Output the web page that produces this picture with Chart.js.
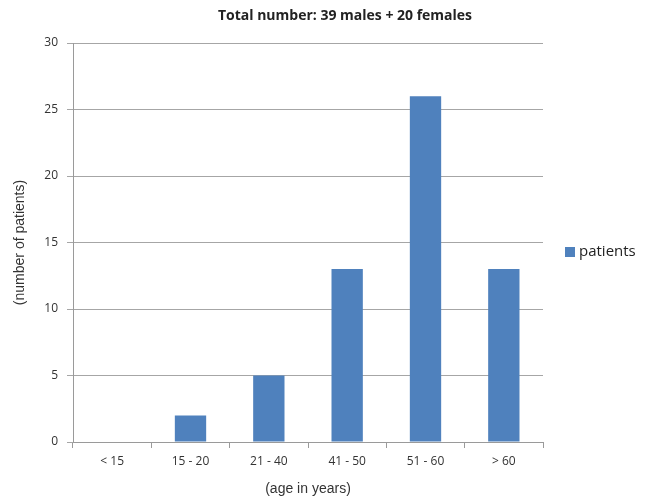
<!DOCTYPE html>
<html><head><meta charset="utf-8">
<script src="https://cdn.jsdelivr.net/npm/chart.js@4.4.0/dist/chart.umd.min.js"></script>
<style>html,body{margin:0;padding:0;background:#fff}#wrap{width:649px;height:502px;position:relative}</style>
</head><body><div id="wrap"><canvas id="c" width="649" height="502"></canvas></div>
<script>
const categories = ["< 15", "15 - 20", "21 - 40", "41 - 50", "51 - 60", "> 60"];
const patients = [0, 2, 5, 13, 26, 13];
const yTicks = [0, 5, 10, 15, 20, 25, 30];
const titleText = "Total number: 39 males + 20 females";
const seriesName = "patients";
const barColor = "#4F81BD";

const overlay = {
  id: 'overlay',
  afterDraw(chart) {
    const ctx = chart.ctx;
    ctx.save();
    ctx.fillStyle = '#222';
    ctx.font = 'bold 14px "Open Sans"';
    ctx.textAlign = 'center';
    ctx.textBaseline = 'middle';
    ctx.fillText(titleText, 345, 16);
    // legend
    ctx.fillStyle = barColor;
    ctx.fillRect(565, 247, 10, 10);
    ctx.fillStyle = '#222';
    ctx.font = '15px "Open Sans"';
    ctx.textAlign = 'left';
    ctx.fillText(seriesName, 579, 252);
    ctx.restore();
  }
};

new Chart(document.getElementById('c'), {
  type: 'bar',
  data: { labels: categories, datasets: [{ label: seriesName, data: patients, backgroundColor: barColor, barPercentage: 0.8, categoryPercentage: 0.5 }] },
  options: {
    responsive: false, animation: false,
    layout: { padding: { top: 43, right: 106, left: 0, bottom: 0 } },
    plugins: { legend: { display: false }, title: { display: false }, tooltip: { enabled: false } },
    scales: {
      x: {
        grid: { display: true, drawOnChartArea: false, drawTicks: true, tickLength: 6, color: '#9a9a9a', offset: true },
        border: { color: '#9a9a9a', width: 1 },
        ticks: { color: '#333', font: { family: '"Open Sans"', size: 12 }, padding: 6, maxRotation: 0 },
        title: { display: true, text: '(age in years)', color: '#333', font: { family: '"Liberation Sans"', size: 14 }, padding: { top: 12 } },
        afterFit(s) { s.height = 60; }
      },
      y: {
        min: 0, max: 30,
        afterBuildTicks(s) { s.ticks = yTicks.map(v => ({ value: v })); },
        grid: { color: '#a6a6a6', tickLength: 6, drawTicks: true },
        border: { color: '#9a9a9a', width: 1 },
        ticks: { color: '#333', font: { family: '"Open Sans"', size: 12 }, padding: 9 },
        title: { display: true, text: '(number of patients)', color: '#333', font: { family: '"Liberation Sans"', size: 14 }, padding: { top: 12, bottom: 10 } },
        afterFit(s) { s.width = 73; }
      }
    }
  },
  plugins: [overlay]
});
</script></body></html>
